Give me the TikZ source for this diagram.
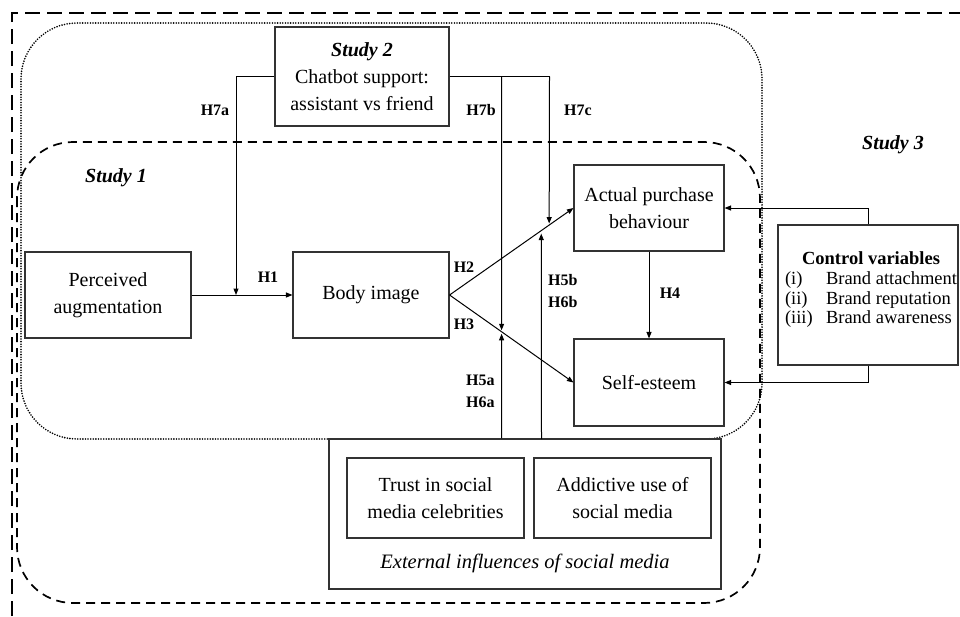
\documentclass[tikz,border=0pt]{standalone}
\usepackage{fontspec}
\setmainfont{Liberation Serif}
\usetikzlibrary{arrows.meta,calc}

\tikzset{
  box/.style={draw=black!80, line width=1.1pt, inner sep=0pt, align=center,
              font=\fontsize{20}{27}\selectfont},
  arr/.style={-{Triangle[length=6.5pt,width=5pt]}, line width=1pt},
  conn/.style={line width=1pt},
  hlab/.style={font=\fontsize{16}{22}\selectfont\bfseries, inner sep=0pt, align=left},
  studylab/.style={font=\fontsize{20}{24}\selectfont\bfseries\itshape, inner sep=0pt},
  plain/.style={font=\fontsize{20}{27}\selectfont, inner sep=0pt},
  outerframe/.style={dash pattern=on 15pt off 7pt, line width=1.2pt},
  studyonebox/.style={dash pattern=on 9pt off 6pt, line width=1.7pt, rounded corners=56pt},
  studytwobox/.style={dash pattern=on 0pt off 2.6pt, line cap=round, line width=1.8pt, rounded corners=56pt},
}

\begin{document}
\begin{tikzpicture}[x=1pt,y=-1pt]
\useasboundingbox (0,0) rectangle (960,616);

% Study frames
\draw[outerframe] (12,616) -- (12,13) -- (960,13);
\draw[studytwobox] (21,23) rectangle (762,439);
\draw[studyonebox] (17,142) rectangle (760,603);

% Study labels
\node[studylab] (s1) at (116,178) {Study 1};
\node[studylab] (s3) at (893,145) {Study 3};

% Constructs
\node[box, minimum width=174pt, minimum height=99pt] (S2) at (362,76.5)
  {\textbf{\textit{Study 2}}\\Chatbot support:\\assistant vs friend};
\node[box, minimum width=166pt, minimum height=86pt] (PA) at (108,295)
  {Perceived\\augmentation};
\node[box, minimum width=156pt, minimum height=86pt] (BI) at (371,295)
  {Body image};
\node[box, minimum width=150pt, minimum height=86pt] (AP) at (649,208)
  {Actual purchase\\behaviour};
\node[box, minimum width=150pt, minimum height=87pt] (SE) at (649,382.5)
  {Self-esteem};

% Control variables
\node[box, minimum width=180pt, minimum height=140pt] (CV) at (868,295) {};
\node[inner sep=0pt, font=\fontsize{18.5}{19.5}\selectfont] (cvtext) at (871,290)
  {\begin{tabular}{@{}p{41pt}@{}l@{}}
    \multicolumn{2}{c}{\textbf{Control variables}}\\[1pt]
    (i) & Brand attachment\\
    (ii) & Brand reputation\\
    (iii) & Brand awareness
   \end{tabular}};

% External influences
\node[box, minimum width=392pt, minimum height=150pt] (EXT) at (525,514) {};
\node[box, minimum width=177pt, minimum height=80pt] (TR) at (435.5,498)
  {Trust in social\\media celebrities};
\node[box, minimum width=177pt, minimum height=80pt] (AD) at (622.5,498)
  {Addictive use of\\social media};
\node[plain, font=\fontsize{20.5}{24}\selectfont\itshape] (extlab) at (525,563)
  {External influences of social media};

% Junction points
\coordinate (j1) at (236,295);
\coordinate (k7b) at (501.5,76.5);
\coordinate (k7c) at (549.5,76.5);
\coordinate (h2c) at ($(BI.east)!0.804!(AP.west)$);
\coordinate (h2b) at ($(BI.east)!0.74!(AP.west)$);
\coordinate (h3b) at ($(BI.east)!0.42!(SE.west)$);
\coordinate (e5a) at (EXT.north -| k7b);
\coordinate (e5b) at (541.5,439);

% Main paths
\draw[arr] (PA) -- (BI);
\draw[arr] (BI.east) -- (AP.west);
\draw[arr] (BI.east) -- (SE.west);
\draw[arr] (AP) -- (SE);

% Moderation by chatbot support
\draw[arr] (S2.west) -| (j1);
\draw[conn] (S2.east) -- (k7c);
\draw[arr, shorten >=1.5pt] (k7b) -- (h3b);
\draw[arr, shorten >=1.5pt] (k7c) -- (h2c);

% Moderation by social media influences
\draw[arr, shorten >=2pt] (e5a) -- (h3b);
\draw[arr, shorten >=3pt] (e5b) -- (h2b);

% Controls
\draw[arr] (CV.north) |- (AP.east);
\draw[arr] (CV.south) |- (SE.east);

% Hypothesis labels
\node[hlab] (l7a) at (215,110) {H7a};
\node[hlab] (l7b) at (481,110) {H7b};
\node[hlab] (l7c) at (578,110) {H7c};
\node[hlab] (l1) at (268,277) {H1};
\node[hlab] (l2) at (464,267) {H2};
\node[hlab] (l3) at (464,324) {H3};
\node[hlab] (l4) at (670,293) {H4};
\node[hlab, anchor=west] (l5b) at (548,291) {H5b\\H6b};
\node[hlab, anchor=west] (l5a) at (466,391) {H5a\\H6a};
\end{tikzpicture}
\end{document}
